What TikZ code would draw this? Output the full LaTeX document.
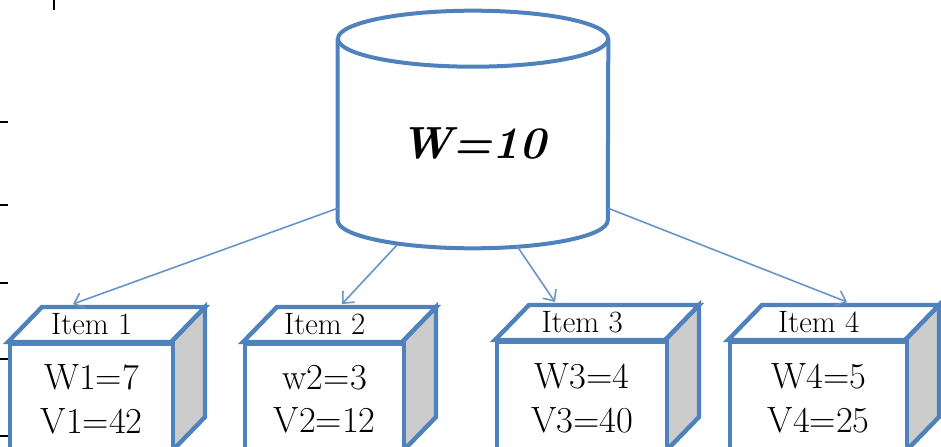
\documentclass[tikz,border=0pt]{standalone}
\usetikzlibrary{arrows.meta, positioning}
\definecolor{boxblue}{RGB}{79,129,189}
\definecolor{sidegray}{RGB}{204,204,204}

\begin{document}
\begin{tikzpicture}[
  x=0.025cm, y=-0.025cm,
  face/.style={draw=boxblue, line width=0.11cm},
  front/.style={rectangle, draw=boxblue, fill=white, line width=0.11cm, anchor=north west, align=center, inner sep=0pt, font=\rmfamily\fontsize{26}{31}\selectfont},
  itemlab/.style={inner sep=0pt, font=\rmfamily\fontsize{22}{24}\selectfont},
  dbline/.style={draw=boxblue, line width=0.1cm},
  link/.style={draw=boxblue!85, line width=0.04cm, -{Straight Barb[length=0.22cm, width=0.4cm]}},
  tick/.style={draw=black, line width=0.05cm},
]
  \useasboundingbox (0,0) rectangle (941,447);

  % stray axis ticks on the left
  \foreach \ty in {122,205,283,359,436}
    \draw[tick] (0,\ty) -- (8,\ty);
  \draw[tick] (54,0) -- (54,10);

  % the knapsack
  \node[minimum width=6.75cm, minimum height=3.825cm, inner sep=0pt, font=\rmfamily\fontsize{32}{38}\selectfont\bfseries\itshape] (db) at (473,143.5) {W=10};
  \draw[dbline] ([yshift=0.7cm]db.north) ellipse[x radius=3.375cm, y radius=0.7cm];
  \draw[dbline] ([yshift=0.7cm]db.north west) -- (db.south west) arc[start angle=180, end angle=360, x radius=3.375cm, y radius=0.7cm] -- ([yshift=0.7cm]db.north east);

  % the items
  \foreach \n/\xl/\xr/\yf/\tx/\wl/\vl in {1/8/171/342/73/W1=7/V1=42, 2/243/402/342/342/w2=3/V2=12, 3/495/665/340/555/W3=4/V3=40, 4/728/905/340/847/W4=5/V4=25}{
    \pgfmathsetmacro\facew{(\xr-\xl)*0.025}
    \pgfmathsetmacro\faceh{(452-\yf)*0.025}
    \filldraw[face, fill=sidegray] (\xr,\yf) -- (\xr+34,\yf-35) -- (\xr+34,417) -- (\xr,452) -- cycle;
    \filldraw[face, fill=white] (\xl,\yf) -- (\xl+34,\yf-35) -- (\xr+34,\yf-35) -- (\xr,\yf) -- cycle;
    \node[front, minimum width=\facew cm, minimum height=\faceh cm] (item\n) at (\xl,\yf) {\wl\\\vl};
    \node[itemlab, above=0.18cm of item\n] (lab\n) {Item \n};
    \coordinate (top\n) at (\tx,\yf-38);
  }

  \coordinate (s1) at ([yshift=0.3cm]db.south west);
  \coordinate (s2) at (397,245);
  \coordinate (s3) at (517,246);
  \coordinate (s4) at ([yshift=0.3cm]db.south east);

  \draw[link] (s1) -- (top1);
  \draw[link] (s2) -- (top2);
  \draw[link] (s3) -- (top3);
  \draw[link] (s4) -- (top4);
\end{tikzpicture}
\end{document}
